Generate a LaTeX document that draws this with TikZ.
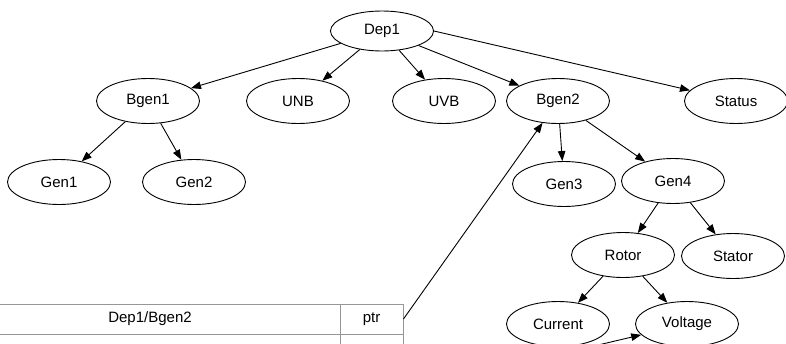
\documentclass[tikz,border=0pt]{standalone}
\usepackage{fontspec}
\setmainfont{Liberation Sans}
\usetikzlibrary{shapes.geometric,arrows.meta}
\definecolor{tablegray}{RGB}{150,150,150}
\tikzset{
  oval/.style={ellipse,draw=black,line width=0.9pt,minimum width=103pt,minimum height=45pt,inner sep=0pt,font=\fontsize{15}{17}\selectfont},
  link/.style={draw=black,line width=0.9pt,-{Triangle[length=10pt,width=7.5pt]}},
  cell/.style={rectangle,draw=tablegray,line width=0.9pt,minimum height=30pt,inner sep=0pt,font=\fontsize{15}{17}\selectfont}
}
\begin{document}
\begin{tikzpicture}[x=1pt,y=-1pt]
\useasboundingbox (0,0) rectangle (786,343);
\clip (0,0) rectangle (786,343);
% tree nodes
\node[oval,minimum height=40pt] (Dep1) at (382,31) {Dep1};
\node[oval] (Bgen1) at (148,101) {Bgen1};
\node[oval] (UNB) at (298,101) {UNB};
\node[oval] (UVB) at (444,101) {UVB};
\node[oval] (Bgen2) at (558,101) {Bgen2};
\node[oval] (Status) at (736,101) {Status};
\node[oval] (Gen1) at (59,182) {Gen1};
\node[oval] (Gen2) at (194,182) {Gen2};
\node[oval] (Gen3) at (564,184) {Gen3};
\node[oval] (Gen4) at (673,181) {Gen4};
\node[oval] (Rotor) at (623,255) {Rotor};
\node[oval] (Stator) at (733,256) {Stator};
\node[oval] (Current) at (558,324) {Current};
\node[oval] (Voltage) at (687,324) {Voltage};
% table
\node[cell,minimum width=380pt] (pathcell) at (150,319) {Dep1/Bgen2};
\node[cell,minimum width=63pt] (ptrcell) at (371.5,319) {ptr};
\node[cell,minimum width=380pt] (pathcell2) at (150,349) {};
\node[cell,minimum width=63pt] (ptrcell2) at (371.5,349) {};
\coordinate (vin) at (577,350);
% edges
\draw[link] (Dep1) -- (Bgen1);
\draw[link] (Dep1) -- (UNB);
\draw[link] (Dep1) -- (UVB);
\draw[link] (Dep1) -- (Bgen2);
\draw[link] (Dep1.east) -- (Status);
\draw[link] (Bgen1) -- (Gen1);
\draw[link] (Bgen1) -- (Gen2);
\draw[link] (Bgen2) -- (Gen3);
\draw[link] (Bgen2) -- (Gen4);
\draw[link] (Gen4) -- (Rotor);
\draw[link] (Gen4) -- (Stator);
\draw[link] (Rotor) -- (Current);
\draw[link] (Rotor) -- (Voltage);
\draw[link] (ptrcell.east) -- (Bgen2);
\draw[link] (vin) -- (Voltage);
\end{tikzpicture}
\end{document}
